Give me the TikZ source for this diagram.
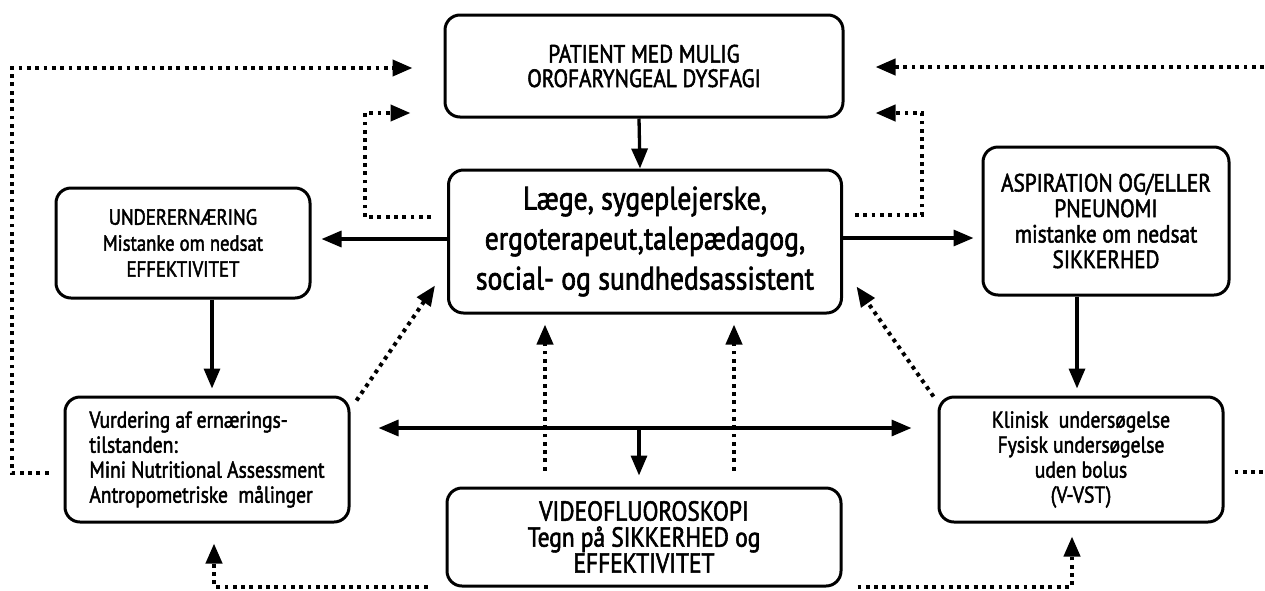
\documentclass[tikz,border=0pt]{standalone}
\usepackage{fontspec}
\setmainfont[FakeStretch=0.85, FakeBold=2]{PT Sans}
\usetikzlibrary{arrows.meta}

\tikzset{
  box/.style={draw, line width=3pt, rounded corners=15pt, inner sep=0pt, align=center},
  head/.tip={Triangle[length=20pt,width=16pt]},
  flow/.style={line width=3.3pt, -head},
  dotflow/.style={line width=4pt, dash pattern=on 3.8pt off 4.5pt, -head},
}

\begin{document}
\begin{tikzpicture}[x=1pt,y=-1pt]
\useasboundingbox (0,0) rectangle (1265,590);

% boxes
\node[box, minimum width=398pt, minimum height=102pt, font=\fontsize{25}{24.5}\selectfont] (patient) at (644,66)
  {PATIENT MED MULIG\\OROFARYNGEAL DYSFAGI};
\node[box, minimum width=393pt, minimum height=143pt, font=\fontsize{32.5}{40}\selectfont] (center) at (645,241.5)
  {Læge, sygeplejerske,\\ergoterapeut,talepædagog,\\social- og sundhedsassistent};
\node[box, minimum width=254pt, minimum height=110pt, font=\fontsize{22}{26}\selectfont] (under) at (183,243)
  {UNDERERNÆRING\\Mistanke om nedsat\\EFFEKTIVITET};
\node[box, minimum width=246pt, minimum height=148pt, font=\fontsize{25}{25.5}\selectfont] (asp) at (1106,221)
  {ASPIRATION OG/ELLER\\PNEUNOMI\\mistanke om nedsat\\SIKKERHED};
\node[box, minimum width=284pt, minimum height=125pt, align=left, font=\fontsize{23}{25}\selectfont] (vurd) at (207,459.5)
  {Vurdering af ernærings-\\tilstanden:\\Mini Nutritional Assessment\\Antropometriske\ \ målinger};
\node[box, minimum width=394pt, minimum height=98pt, font=\fontsize{27.5}{26}\selectfont] (video) at (644,537)
  {VIDEOFLUOROSKOPI\\Tegn på SIKKERHED og\\EFFEKTIVITET};
\node[box, minimum width=284pt, minimum height=125pt, font=\fontsize{23}{25}\selectfont] (klin) at (1081,459.5)
  {Klinisk\ \ undersøgelse\\Fysisk undersøgelse\\uden bolus\\(V-VST)};

% helper positions for bends and shared lines
\coordinate (hy) at (0,428);
\coordinate (vx) at (639,0);
\coordinate (d1) at (545,0);
\coordinate (d2) at (734,0);
\coordinate (lx) at (12,68);
\coordinate (rx) at (1275,67);
\coordinate (il) at (365,113);
\coordinate (ir) at (922,113);

% solid flow
\draw[flow] ([xshift=-5pt]patient.south) -- ([xshift=-5pt]center.north);
\draw[flow, shorten >=10pt] ([yshift=2.5pt]center.west) -- ([yshift=2.5pt]center.west -| under.east);
\draw[flow, shorten >=8pt] ([yshift=3.5pt]center.east) -- ([yshift=3.5pt]center.east -| asp.west);
\draw[flow, shorten >=7pt] ([xshift=5pt]vurd.north |- under.south) -- ([xshift=5pt]vurd.north);
\draw[flow, shorten >=7pt] ([xshift=-4pt]klin.north |- asp.south) -- ([xshift=-4pt]klin.north);
\draw[flow, head-head, shorten <=28pt, shorten >=26pt] (vurd.east |- hy) -- (klin.west |- hy);
\draw[flow, shorten >=11pt] (vx |- hy) -- (vx |- video.north);

% dotted feedback
\draw[dotflow, shorten <=16pt, shorten >=10pt] (d1 |- video.north) -- (d1 |- center.south);
\draw[dotflow, shorten <=16pt, shorten >=10pt] (d2 |- video.north) -- (d2 |- center.south);
\draw[dotflow] ([xshift=6pt,yshift=-5pt]vurd.north east) -- ([xshift=-12pt,yshift=29pt]center.south west);
\draw[dotflow] ([xshift=-4pt,yshift=-1pt]klin.north west) -- ([xshift=13.5pt,yshift=28pt]center.south east);
\draw[dotflow] ([xshift=-15pt,yshift=-13.5pt]vurd.west) -| (lx) -- ([xshift=-31pt,yshift=-2pt]patient.west);
\draw[dotflow] ([xshift=-16pt,yshift=24.5pt]center.west) -| (il) -- ([xshift=-33pt,yshift=-47pt]patient.west);
\draw[dotflow] ([xshift=12pt,yshift=26.5pt]center.east) -| (ir) -- ([xshift=31pt,yshift=-47pt]patient.east);
\draw[dotflow] ([xshift=10pt,yshift=-12.5pt]klin.east) -| (rx) -- ([xshift=31pt,yshift=-1pt]patient.east);
\draw[dotflow] ([xshift=-18pt,yshift=1pt]video.south west) -| ([xshift=7pt,yshift=-20pt]vurd.south);
\draw[dotflow] ([xshift=15pt,yshift=1pt]video.south east) -| ([xshift=-9pt,yshift=-13pt]klin.south);
\end{tikzpicture}
\end{document}
